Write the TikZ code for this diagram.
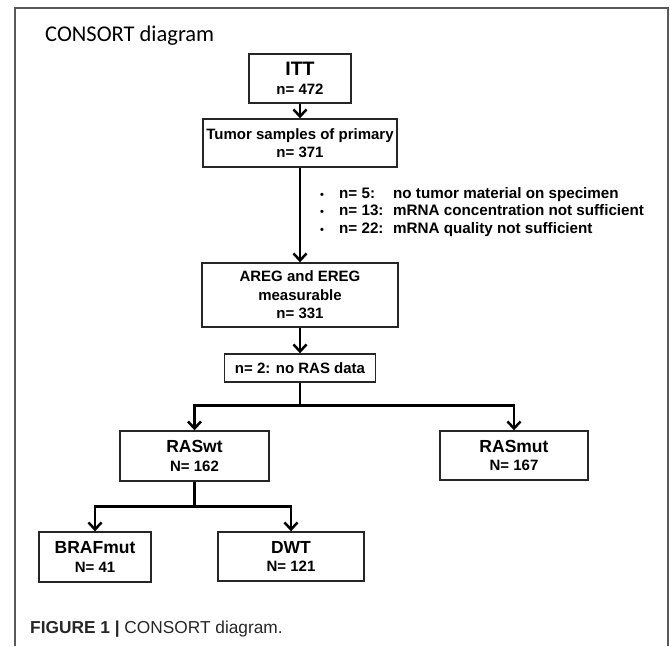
\documentclass[tikz,border=0pt]{standalone}
\usepackage{fontspec}
\setmainfont{Liberation Sans}
\newfontfamily\titlefont{Carlito}
\usetikzlibrary{arrows.meta}
\begin{document}
\begin{tikzpicture}[x=1pt,y=-1pt,
  box/.style={draw=black!85, line width=1.4pt, fill=white, inner sep=0pt, align=center,
    font=\bfseries\fontsize{15}{18.5}\selectfont},
  conn/.style={line width=2.5pt, draw=black},
  arr/.style={conn, -{Straight Barb[length=7pt,width=13pt]}},
  frame/.style={draw=black!65, line width=1.4pt}
]
\useasboundingbox (0,0) rectangle (670,646);
\draw[frame] (15,646) -- (15,8) -- (668,8) -- (668,646);

\node[anchor=base west, inner sep=0pt, font=\titlefont\fontsize{22.5}{26}\selectfont] (title) at (45,41) {CONSORT diagram};

\node[box, minimum width=102pt, minimum height=49pt] (itt) at (300,78.5)
  {{\fontsize{19.5}{19.5}\selectfont ITT}\\ n= 472};
\node[box, minimum width=194pt, minimum height=48pt] (tumor) at (300,143)
  {Tumor samples of primary\\ n= 371};
\node[box, minimum width=196pt, minimum height=64pt] (areg) at (300,295)
  {AREG and EREG\\ measurable\\ n= 331};
\node[box, minimum width=151pt, minimum height=28pt] (nras) at (300,368)
  {n= 2: no RAS data};
\node[box, minimum width=149pt, minimum height=50pt] (raswt) at (194.5,456)
  {{\fontsize{17.5}{17.5}\selectfont RASwt}\\ N= 162};
\node[box, minimum width=148pt, minimum height=49pt] (rasmut) at (514,455.5)
  {{\fontsize{17.5}{17.5}\selectfont RASmut}\\ N= 167};
\node[box, minimum width=112pt, minimum height=50pt] (braf) at (95,557)
  {{\fontsize{17.5}{17.5}\selectfont BRAFmut}\\ N= 41};
\node[box, minimum width=146pt, minimum height=49pt] (dwt) at (291,556.5)
  {{\fontsize{17.5}{17.5}\selectfont DWT}\\ N= 121};

\node[anchor=west, inner sep=0pt, font=\bfseries\fontsize{15.2}{17.5}\selectfont] (excl) at (320,212)
  {\begin{tabular}{@{}p{19pt}@{}p{54pt}@{}l@{}}
   {\fontsize{11}{11}\selectfont\textbullet} & n= 5: & no tumor material on specimen\\
   {\fontsize{11}{11}\selectfont\textbullet} & n= 13: & mRNA concentration not sufficient\\
   {\fontsize{11}{11}\selectfont\textbullet} & n= 22: & mRNA quality not sufficient
   \end{tabular}};

\draw[arr] (itt.south) -- (tumor.north);
\draw[arr] (tumor.south) -- (areg.north);
\draw[arr] (areg.south) -- (nras.north);
\draw[arr] (nras.south) -- ++(0,23) coordinate (s1) -| (raswt.north);
\draw[arr] (s1) -| (rasmut.north);
\draw[arr] (raswt.south) -- ++(0,25) coordinate (s2) -| (braf.north);
\draw[arr] (s2) -| (dwt.north);

\node[anchor=base west, inner sep=0pt, text=black!85, font=\fontsize{17.3}{20}\selectfont] (cap) at (30,633)
  {\textbf{FIGURE 1 |} CONSORT diagram.};
\end{tikzpicture}
\end{document}
